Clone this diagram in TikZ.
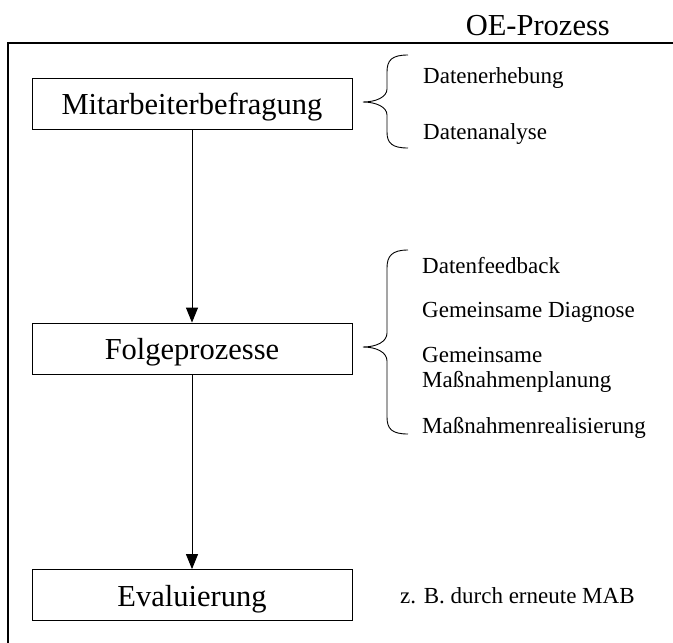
\documentclass[tikz,border=0pt]{standalone}
\usepackage{fontspec}
\setmainfont{Liberation Serif}
\usepackage{tikz}
\usetikzlibrary{arrows.meta,positioning}

\newcommand{\grossschrift}{\fontsize{30.5}{36}\selectfont}
\newcommand{\kleinschrift}{\fontsize{23}{25}\selectfont}

\begin{document}
\begin{tikzpicture}[
  x=1pt, y=-1pt,
  box/.style={draw, rectangle, line width=0.8pt,
              minimum width=320pt, minimum height=51pt,
              text height=22pt, text depth=0pt, font=\grossschrift},
  item/.style={anchor=base west, inner sep=0pt, font=\kleinschrift, align=left},
  pfeil/.style={line width=0.9pt, -{Triangle[length=15pt,width=12pt]}},
  klammer/.style={line width=0.9pt},
  lbl/.style={anchor=base east, inner sep=0pt, font=\grossschrift}
]
\useasboundingbox (0,0) rectangle (673,643);

%% Rahmen
\node[lbl] (titel) at (610,35) {OE-Prozess};
\draw[line width=1.2pt] (673,43) -- (8,43) -- (8,643);

%% Prozessschritte
\node[box] (mab)   at (192,103.5) {Mitarbeiterbefragung};
\node[box] (folge) at (192,348.5) {Folgeprozesse};
\node[box] (eval)  at (192,595)   {Evaluierung};
\draw[pfeil] (mab) -- (folge);
\draw[pfeil] (folge) -- (eval);

%% Klammer oben
\draw[klammer] (408,55) .. controls (392,55) and (387,60) .. (387,72)
  -- (387,89) .. controls (387,97) and (376,102) .. (363,102)
  .. controls (376,102) and (387,107) .. (387,115)
  -- (387,132) .. controls (387,143) and (392,148) .. (408,148);
\node[item] (erheb) at (423,83)  {Datenerhebung};
\node[item] (anal)  at (423,139) {Datenanalyse};

%% Klammer Mitte
\draw[klammer] (408,250) .. controls (392,250) and (387,256) .. (387,268)
  -- (387,333) .. controls (387,342) and (376,347) .. (363,347)
  .. controls (376,347) and (387,352) .. (387,361)
  -- (387,417) .. controls (387,429) and (392,434) .. (408,434);
\node[item] (feedb) at (422,273) {Datenfeedback};
\node[item] (diagn) at (422,317) {Gemeinsame Diagnose};
\node[item] (plan)  at (422,387) {Gemeinsame\\Maßnahmenplanung};
\node[item] (real)  at (422,433) {Maßnahmenrealisierung};

%% Evaluierung
\node[item] (bsp) at (400,603) {z. B. durch erneute MAB};
\end{tikzpicture}
\end{document}
